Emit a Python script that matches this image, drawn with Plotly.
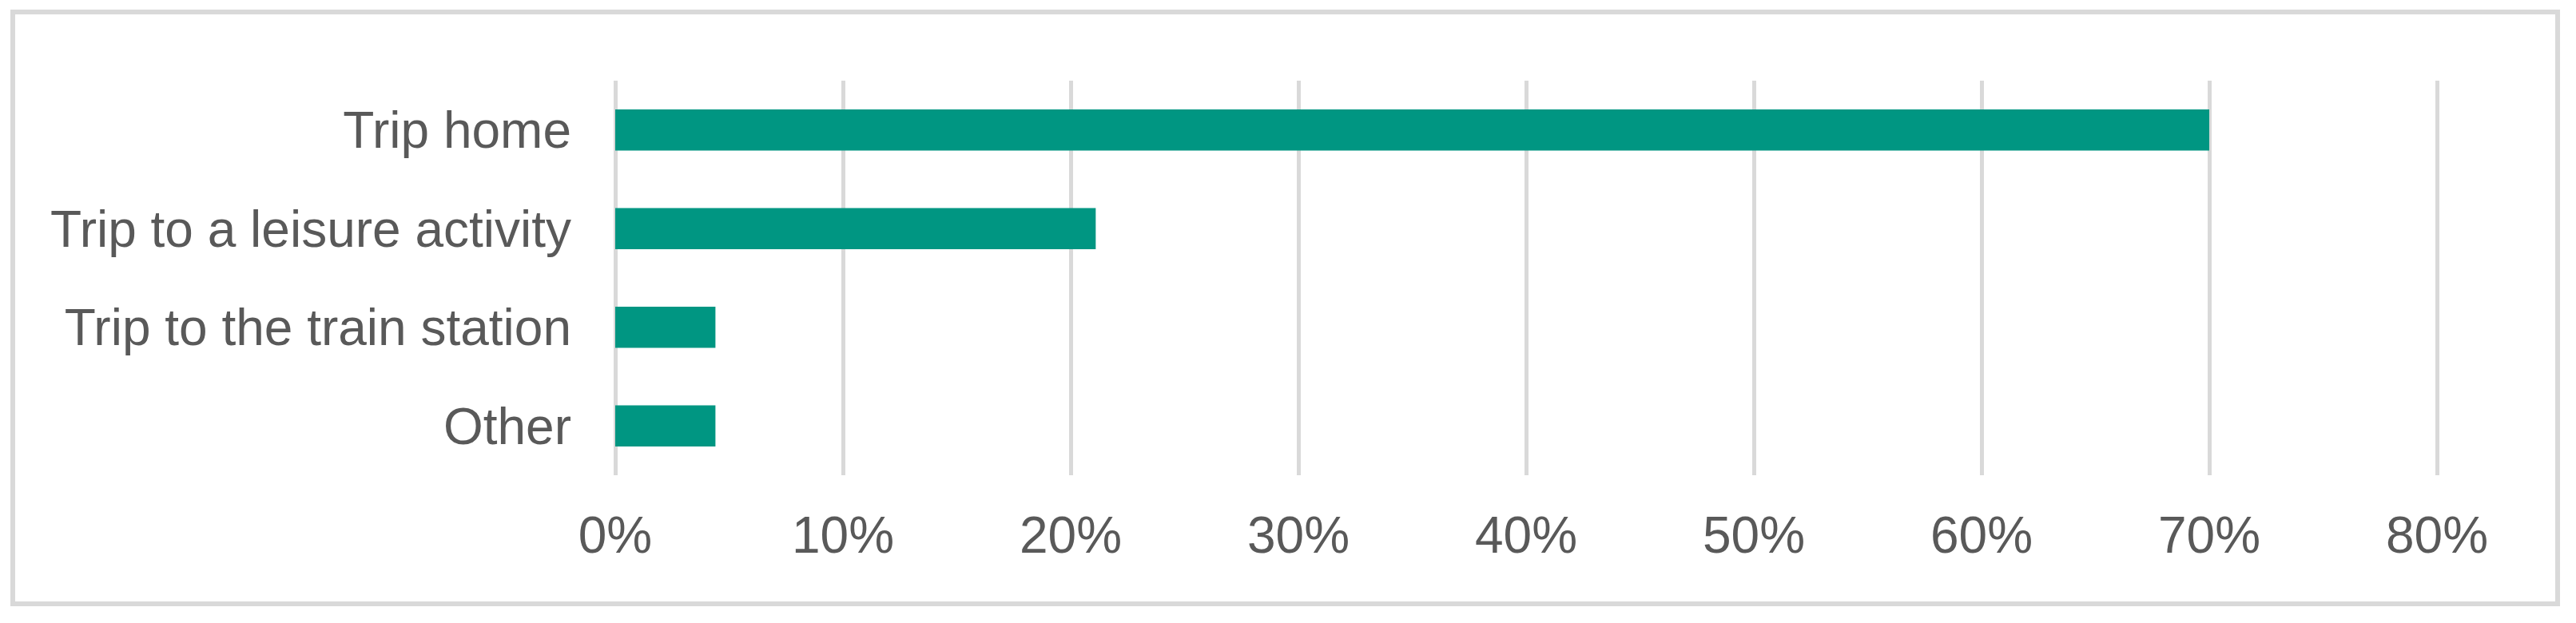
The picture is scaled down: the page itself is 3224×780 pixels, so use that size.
import plotly.graph_objects as go

categories = ["Trip home", "Trip to a leisure activity", "Trip to the train station", "Other"]
values = [0.700, 0.211, 0.044, 0.044]
tick_vals = [0, 0.1, 0.2, 0.3, 0.4, 0.5, 0.6, 0.7, 0.8]
tick_text = ["0%", "10%", "20%", "30%", "40%", "50%", "60%", "70%", "80%"]

# page offset from default body margin
OFF = 8
PADX = 3  # small padding so the 0% and 80% gridlines are drawn
W, H = 3224, 780
L, R, T, B = 770 - OFF - PADX, 174 + OFF - PADX, 101 - OFF, 185 + OFF
pw = W - L - R
ph = H - T - B
pad_val = 0.8 * PADX / (pw - 2 * PADX)

fig = go.Figure(go.Bar(
    y=categories, x=values, orientation="h",
    marker=dict(color="#009682", line=dict(width=0)),
    hoverinfo="x+y",
))

grey = "#d9d9d9"
text_col = "#595959"
font = "Liberation Sans, Arial, sans-serif"

# border rectangle in page pixels (line centres)
bx0, bx1, by0, by1 = 16 - OFF, 3201 - OFF, 15 - OFF, 756 - OFF

fig.update_layout(
    width=W, height=H,
    margin=dict(l=L, r=R, t=T, b=B, pad=0),
    paper_bgcolor="white", plot_bgcolor="white",
    bargap=0.585,
    showlegend=False,
    font=dict(family=font, color=text_col, size=64),
    xaxis=dict(
        range=[-pad_val, 0.8 + pad_val], tickvals=tick_vals, ticktext=tick_text,
        showgrid=True, gridcolor=grey, gridwidth=5,
        zeroline=False, showline=False, ticks="",
        ticklabelstandoff=32,
        tickfont=dict(family=font, size=64, color=text_col),
    ),
    yaxis=dict(
        categoryorder="array", categoryarray=categories[::-1],
        showgrid=False, zeroline=False, showline=False, ticks="",
        ticklabelstandoff=54 - PADX,
        tickfont=dict(family=font, size=64, color=text_col),
    ),
    shapes=[dict(
        type="rect", xref="paper", yref="paper",
        x0=(bx0 - L) / pw, x1=(bx1 - L) / pw,
        y0=(H - B - by1) / ph, y1=(H - B - by0) / ph,
        line=dict(color=grey, width=6), fillcolor="rgba(0,0,0,0)", layer="below",
    )],
)

fig.write_html("out.html")
